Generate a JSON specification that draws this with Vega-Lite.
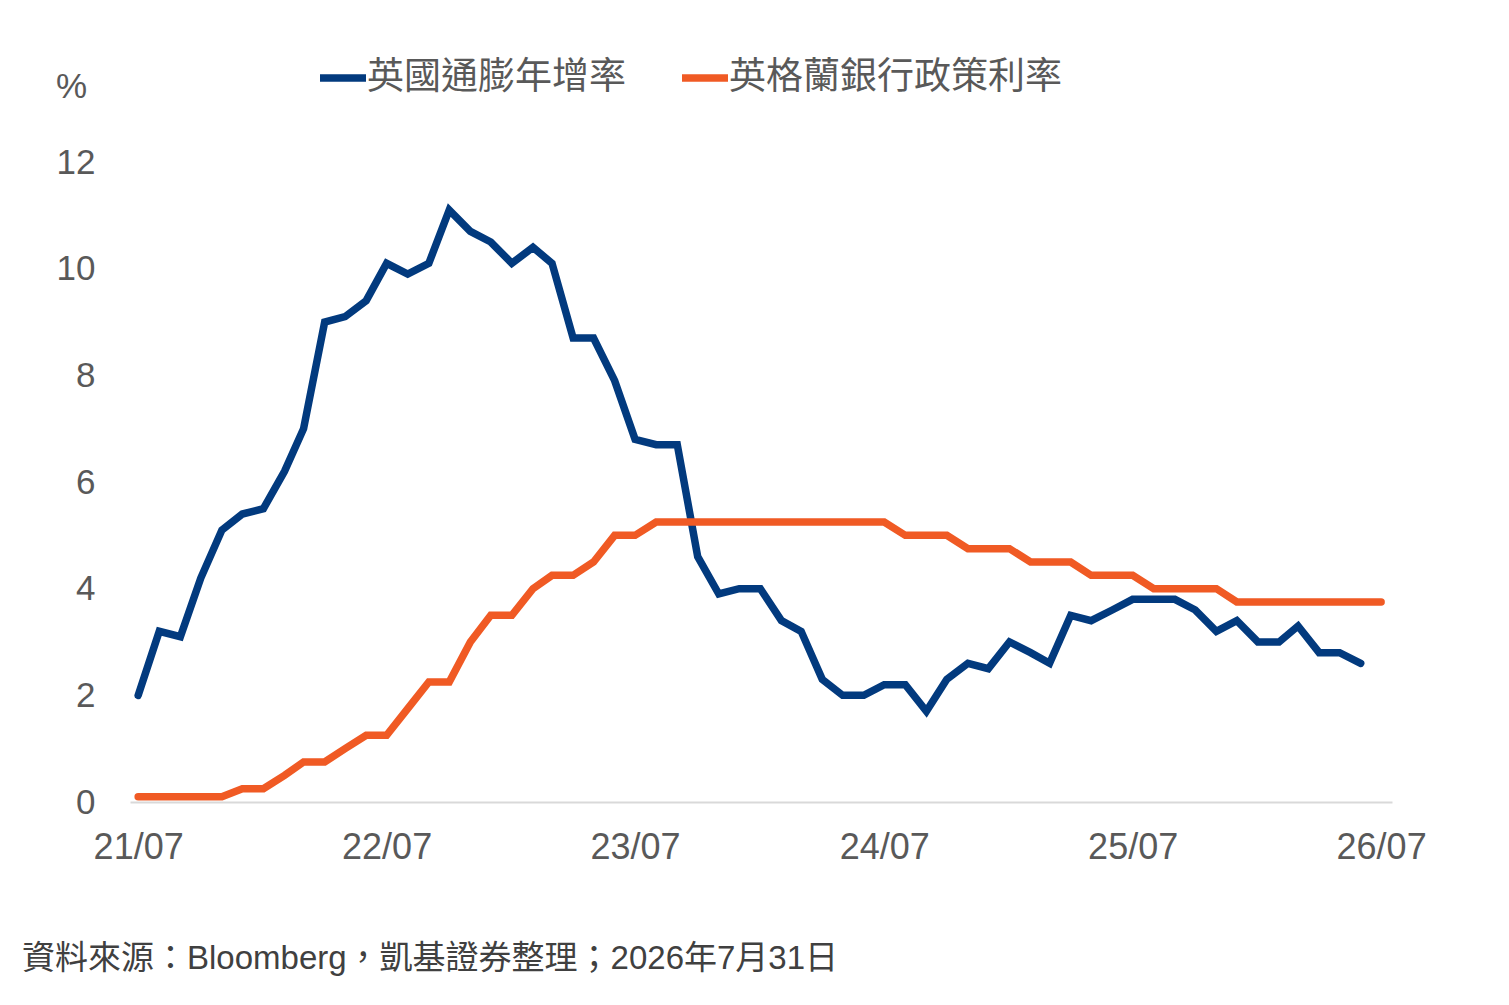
{
  "$schema": "https://vega.github.io/schema/vega-lite/v6.json",
  "autosize": {"type": "none"},
  "width": 1262,
  "height": 640,
  "padding": {"left": 130, "top": 162, "right": 117, "bottom": 203},
  "config": {
    "view": {"stroke": null},
    "font": "Liberation Sans, Noto Sans CJK TC"
  },
  "title": {
    "text": "資料來源：Bloomberg，凱基證券整理；2026年7月31日",
    "orient": "bottom",
    "anchor": "start",
    "frame": "group",
    "dx": -108,
    "offset": 78,
    "fontSize": 33,
    "fontWeight": "normal",
    "color": "#404040",
    "font": "Liberation Sans, Noto Sans CJK TC"
  },
  "data": {
    "values": [
      {"date": "2021-07-01", "series": "英國通膨年增率", "value": 2.0},
      {"date": "2021-08-01", "series": "英國通膨年增率", "value": 3.2},
      {"date": "2021-09-01", "series": "英國通膨年增率", "value": 3.1},
      {"date": "2021-10-01", "series": "英國通膨年增率", "value": 4.2},
      {"date": "2021-11-01", "series": "英國通膨年增率", "value": 5.1},
      {"date": "2021-12-01", "series": "英國通膨年增率", "value": 5.4},
      {"date": "2022-01-01", "series": "英國通膨年增率", "value": 5.5},
      {"date": "2022-02-01", "series": "英國通膨年增率", "value": 6.2},
      {"date": "2022-03-01", "series": "英國通膨年增率", "value": 7.0},
      {"date": "2022-04-01", "series": "英國通膨年增率", "value": 9.0},
      {"date": "2022-05-01", "series": "英國通膨年增率", "value": 9.1},
      {"date": "2022-06-01", "series": "英國通膨年增率", "value": 9.4},
      {"date": "2022-07-01", "series": "英國通膨年增率", "value": 10.1},
      {"date": "2022-08-01", "series": "英國通膨年增率", "value": 9.9},
      {"date": "2022-09-01", "series": "英國通膨年增率", "value": 10.1},
      {"date": "2022-10-01", "series": "英國通膨年增率", "value": 11.1},
      {"date": "2022-11-01", "series": "英國通膨年增率", "value": 10.7},
      {"date": "2022-12-01", "series": "英國通膨年增率", "value": 10.5},
      {"date": "2023-01-01", "series": "英國通膨年增率", "value": 10.1},
      {"date": "2023-02-01", "series": "英國通膨年增率", "value": 10.4},
      {"date": "2023-03-01", "series": "英國通膨年增率", "value": 10.1},
      {"date": "2023-04-01", "series": "英國通膨年增率", "value": 8.7},
      {"date": "2023-05-01", "series": "英國通膨年增率", "value": 8.7},
      {"date": "2023-06-01", "series": "英國通膨年增率", "value": 7.9},
      {"date": "2023-07-01", "series": "英國通膨年增率", "value": 6.8},
      {"date": "2023-08-01", "series": "英國通膨年增率", "value": 6.7},
      {"date": "2023-09-01", "series": "英國通膨年增率", "value": 6.7},
      {"date": "2023-10-01", "series": "英國通膨年增率", "value": 4.6},
      {"date": "2023-11-01", "series": "英國通膨年增率", "value": 3.9},
      {"date": "2023-12-01", "series": "英國通膨年增率", "value": 4.0},
      {"date": "2024-01-01", "series": "英國通膨年增率", "value": 4.0},
      {"date": "2024-02-01", "series": "英國通膨年增率", "value": 3.4},
      {"date": "2024-03-01", "series": "英國通膨年增率", "value": 3.2},
      {"date": "2024-04-01", "series": "英國通膨年增率", "value": 2.3},
      {"date": "2024-05-01", "series": "英國通膨年增率", "value": 2.0},
      {"date": "2024-06-01", "series": "英國通膨年增率", "value": 2.0},
      {"date": "2024-07-01", "series": "英國通膨年增率", "value": 2.2},
      {"date": "2024-08-01", "series": "英國通膨年增率", "value": 2.2},
      {"date": "2024-09-01", "series": "英國通膨年增率", "value": 1.7},
      {"date": "2024-10-01", "series": "英國通膨年增率", "value": 2.3},
      {"date": "2024-11-01", "series": "英國通膨年增率", "value": 2.6},
      {"date": "2024-12-01", "series": "英國通膨年增率", "value": 2.5},
      {"date": "2025-01-01", "series": "英國通膨年增率", "value": 3.0},
      {"date": "2025-02-01", "series": "英國通膨年增率", "value": 2.8},
      {"date": "2025-03-01", "series": "英國通膨年增率", "value": 2.6},
      {"date": "2025-04-01", "series": "英國通膨年增率", "value": 3.5},
      {"date": "2025-05-01", "series": "英國通膨年增率", "value": 3.4},
      {"date": "2025-06-01", "series": "英國通膨年增率", "value": 3.6},
      {"date": "2025-07-01", "series": "英國通膨年增率", "value": 3.8},
      {"date": "2025-08-01", "series": "英國通膨年增率", "value": 3.8},
      {"date": "2025-09-01", "series": "英國通膨年增率", "value": 3.8},
      {"date": "2025-10-01", "series": "英國通膨年增率", "value": 3.6},
      {"date": "2025-11-01", "series": "英國通膨年增率", "value": 3.2},
      {"date": "2025-12-01", "series": "英國通膨年增率", "value": 3.4},
      {"date": "2026-01-01", "series": "英國通膨年增率", "value": 3.0},
      {"date": "2026-02-01", "series": "英國通膨年增率", "value": 3.0},
      {"date": "2026-03-01", "series": "英國通膨年增率", "value": 3.3},
      {"date": "2026-04-01", "series": "英國通膨年增率", "value": 2.8},
      {"date": "2026-05-01", "series": "英國通膨年增率", "value": 2.8},
      {"date": "2026-06-01", "series": "英國通膨年增率", "value": 2.6},
      {"date": "2021-07-01", "series": "英格蘭銀行政策利率", "value": 0.1},
      {"date": "2021-08-01", "series": "英格蘭銀行政策利率", "value": 0.1},
      {"date": "2021-09-01", "series": "英格蘭銀行政策利率", "value": 0.1},
      {"date": "2021-10-01", "series": "英格蘭銀行政策利率", "value": 0.1},
      {"date": "2021-11-01", "series": "英格蘭銀行政策利率", "value": 0.1},
      {"date": "2021-12-01", "series": "英格蘭銀行政策利率", "value": 0.25},
      {"date": "2022-01-01", "series": "英格蘭銀行政策利率", "value": 0.25},
      {"date": "2022-02-01", "series": "英格蘭銀行政策利率", "value": 0.5},
      {"date": "2022-03-01", "series": "英格蘭銀行政策利率", "value": 0.75},
      {"date": "2022-04-01", "series": "英格蘭銀行政策利率", "value": 0.75},
      {"date": "2022-05-01", "series": "英格蘭銀行政策利率", "value": 1.0},
      {"date": "2022-06-01", "series": "英格蘭銀行政策利率", "value": 1.25},
      {"date": "2022-07-01", "series": "英格蘭銀行政策利率", "value": 1.25},
      {"date": "2022-08-01", "series": "英格蘭銀行政策利率", "value": 1.75},
      {"date": "2022-09-01", "series": "英格蘭銀行政策利率", "value": 2.25},
      {"date": "2022-10-01", "series": "英格蘭銀行政策利率", "value": 2.25},
      {"date": "2022-11-01", "series": "英格蘭銀行政策利率", "value": 3.0},
      {"date": "2022-12-01", "series": "英格蘭銀行政策利率", "value": 3.5},
      {"date": "2023-01-01", "series": "英格蘭銀行政策利率", "value": 3.5},
      {"date": "2023-02-01", "series": "英格蘭銀行政策利率", "value": 4.0},
      {"date": "2023-03-01", "series": "英格蘭銀行政策利率", "value": 4.25},
      {"date": "2023-04-01", "series": "英格蘭銀行政策利率", "value": 4.25},
      {"date": "2023-05-01", "series": "英格蘭銀行政策利率", "value": 4.5},
      {"date": "2023-06-01", "series": "英格蘭銀行政策利率", "value": 5.0},
      {"date": "2023-07-01", "series": "英格蘭銀行政策利率", "value": 5.0},
      {"date": "2023-08-01", "series": "英格蘭銀行政策利率", "value": 5.25},
      {"date": "2023-09-01", "series": "英格蘭銀行政策利率", "value": 5.25},
      {"date": "2023-10-01", "series": "英格蘭銀行政策利率", "value": 5.25},
      {"date": "2023-11-01", "series": "英格蘭銀行政策利率", "value": 5.25},
      {"date": "2023-12-01", "series": "英格蘭銀行政策利率", "value": 5.25},
      {"date": "2024-01-01", "series": "英格蘭銀行政策利率", "value": 5.25},
      {"date": "2024-02-01", "series": "英格蘭銀行政策利率", "value": 5.25},
      {"date": "2024-03-01", "series": "英格蘭銀行政策利率", "value": 5.25},
      {"date": "2024-04-01", "series": "英格蘭銀行政策利率", "value": 5.25},
      {"date": "2024-05-01", "series": "英格蘭銀行政策利率", "value": 5.25},
      {"date": "2024-06-01", "series": "英格蘭銀行政策利率", "value": 5.25},
      {"date": "2024-07-01", "series": "英格蘭銀行政策利率", "value": 5.25},
      {"date": "2024-08-01", "series": "英格蘭銀行政策利率", "value": 5.0},
      {"date": "2024-09-01", "series": "英格蘭銀行政策利率", "value": 5.0},
      {"date": "2024-10-01", "series": "英格蘭銀行政策利率", "value": 5.0},
      {"date": "2024-11-01", "series": "英格蘭銀行政策利率", "value": 4.75},
      {"date": "2024-12-01", "series": "英格蘭銀行政策利率", "value": 4.75},
      {"date": "2025-01-01", "series": "英格蘭銀行政策利率", "value": 4.75},
      {"date": "2025-02-01", "series": "英格蘭銀行政策利率", "value": 4.5},
      {"date": "2025-03-01", "series": "英格蘭銀行政策利率", "value": 4.5},
      {"date": "2025-04-01", "series": "英格蘭銀行政策利率", "value": 4.5},
      {"date": "2025-05-01", "series": "英格蘭銀行政策利率", "value": 4.25},
      {"date": "2025-06-01", "series": "英格蘭銀行政策利率", "value": 4.25},
      {"date": "2025-07-01", "series": "英格蘭銀行政策利率", "value": 4.25},
      {"date": "2025-08-01", "series": "英格蘭銀行政策利率", "value": 4.0},
      {"date": "2025-09-01", "series": "英格蘭銀行政策利率", "value": 4.0},
      {"date": "2025-10-01", "series": "英格蘭銀行政策利率", "value": 4.0},
      {"date": "2025-11-01", "series": "英格蘭銀行政策利率", "value": 4.0},
      {"date": "2025-12-01", "series": "英格蘭銀行政策利率", "value": 3.75},
      {"date": "2026-01-01", "series": "英格蘭銀行政策利率", "value": 3.75},
      {"date": "2026-02-01", "series": "英格蘭銀行政策利率", "value": 3.75},
      {"date": "2026-03-01", "series": "英格蘭銀行政策利率", "value": 3.75},
      {"date": "2026-04-01", "series": "英格蘭銀行政策利率", "value": 3.75},
      {"date": "2026-05-01", "series": "英格蘭銀行政策利率", "value": 3.75},
      {"date": "2026-06-01", "series": "英格蘭銀行政策利率", "value": 3.75},
      {"date": "2026-07-01", "series": "英格蘭銀行政策利率", "value": 3.75}
    ]
  },
  "mark": {"type": "line", "strokeWidth": 7.5, "strokeCap": "round"},
  "encoding": {
    "x": {
      "field": "date",
      "type": "temporal",
      "scale": {
        "type": "utc",
        "domain": [
          {"year": 2021, "month": 6, "date": 19, "utc": true},
          {"year": 2026, "month": 7, "date": 17, "utc": true}
        ]
      },
      "axis": {
        "title": null,
        "values": [
          {"year": 2021, "month": 7, "date": 1, "utc": true},
          {"year": 2022, "month": 7, "date": 1, "utc": true},
          {"year": 2023, "month": 7, "date": 1, "utc": true},
          {"year": 2024, "month": 7, "date": 1, "utc": true},
          {"year": 2025, "month": 7, "date": 1, "utc": true},
          {"year": 2026, "month": 7, "date": 1, "utc": true}
        ],
        "labelExpr": "utcFormat(datum.value, '%y/%m')",
        "grid": false,
        "ticks": false,
        "tickSize": 0,
        "domainColor": "#D9D9D9",
        "domainWidth": 2,
        "labelFontSize": 36,
        "labelColor": "#595959",
        "labelPadding": 28,
        "labelFlush": false,
        "labelOverlap": false
      }
    },
    "y": {
      "field": "value",
      "type": "quantitative",
      "scale": {"domain": [0, 12], "nice": false, "zero": true},
      "axis": {
        "title": "%",
        "titleAngle": 0,
        "titleX": -59,
        "titleY": -65,
        "titleAlign": "center",
        "titleBaseline": "alphabetic",
        "titleFontSize": 35,
        "titleFontWeight": "normal",
        "titleColor": "#595959",
        "values": [0, 2, 4, 6, 8, 10, 12],
        "grid": false,
        "domain": false,
        "ticks": false,
        "tickSize": 0,
        "labelFontSize": 35,
        "labelColor": "#595959",
        "labelPadding": 35
      }
    },
    "color": {
      "field": "series",
      "type": "nominal",
      "scale": {
        "domain": ["英國通膨年增率", "英格蘭銀行政策利率"],
        "range": ["#023A7E", "#F05A24"]
      },
      "legend": {
        "title": null,
        "orient": "none",
        "legendX": 186,
        "legendY": -111,
        "direction": "horizontal",
        "symbolType": "stroke",
        "symbolSize": 2116,
        "symbolStrokeWidth": 7.5,
        "labelFontSize": 37,
        "labelColor": "#595959",
        "labelOffset": -3,
        "labelLimit": 0,
        "columnPadding": 41,
        "font": "Liberation Sans, Noto Sans CJK TC"
      }
    }
  }
}
